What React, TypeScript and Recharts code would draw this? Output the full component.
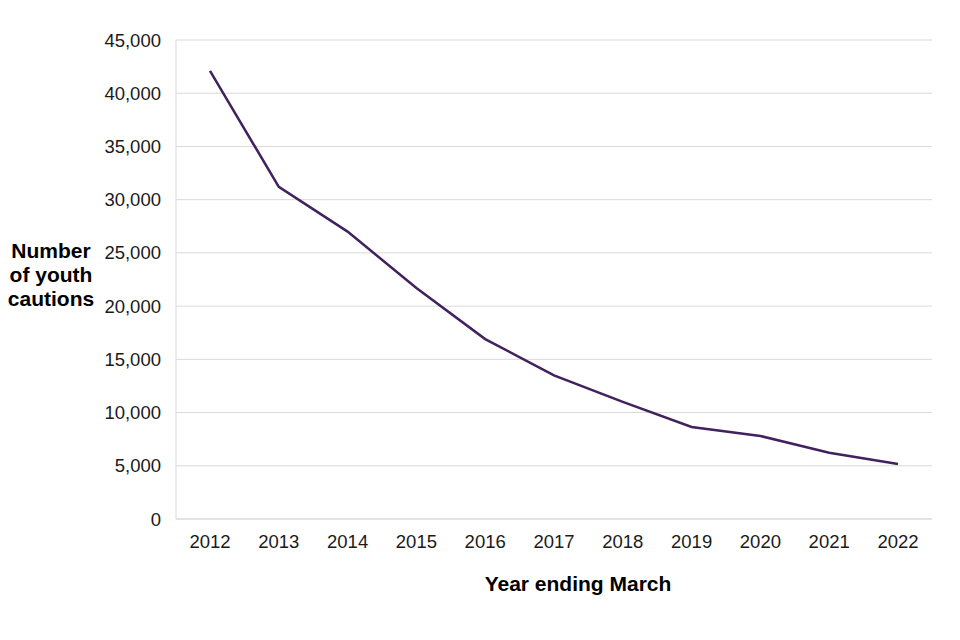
import { LineChart, Line, XAxis, YAxis, CartesianGrid } from 'recharts';

const years = ['2012', '2013', '2014', '2015', '2016', '2017', '2018', '2019', '2020', '2021', '2022'];
const cautions = [42100, 31200, 27000, 21700, 16900, 13500, 11000, 8650, 7800, 6230, 5170];
const yTicks = [0, 5000, 10000, 15000, 20000, 25000, 30000, 35000, 40000, 45000];

const data = years.map((year, i) => ({ year, cautions: cautions[i] }));

const font = '"Liberation Sans", Arial, sans-serif';

function YTitle() {
  return (
    <text x={51} y={258} textAnchor="middle" fontFamily={font} fontSize={21} fontWeight="bold" fill="#000">
      <tspan x={51} dy={0}>Number</tspan>
      <tspan x={51} dy={24}>of youth</tspan>
      <tspan x={51} dy={24}>cautions</tspan>
    </text>
  );
}

function XTitle() {
  return (
    <text x={578} y={591} textAnchor="middle" fontFamily={font} fontSize={21} fontWeight="bold" fill="#000">
      Year ending March
    </text>
  );
}

export default function App() {
  return (
    <div style={{ position: 'absolute', left: 0, top: 0, width: 960, height: 640, background: '#fff' }}>
      <LineChart width={960} height={640} data={data} margin={{ top: 40, right: 28, left: 96, bottom: 51 }}>
        <CartesianGrid vertical={false} stroke="#d9d9d9" />
        <XAxis
          dataKey="year"
          padding={{ left: 34, right: 34 }}
          stroke="#d9d9d9"
          tickLine={false}
          tickSize={0}
          tickMargin={16}
          height={70}
          interval={0}
          tick={{ fill: '#1a1a1a', fontSize: 18.5, fontFamily: font }}
          label={<XTitle />}
        />
        <YAxis
          width={80}
          domain={[0, 45000]}
          ticks={yTicks}
          interval={0}
          stroke="#d9d9d9"
          tickLine={false}
          tickSize={0}
          tickMargin={15}
          tickFormatter={(v: number) => v.toLocaleString('en-GB')}
          tick={{ fill: '#1a1a1a', fontSize: 18.5, fontFamily: font }}
          label={<YTitle />}
        />
        <Line
          type="linear"
          dataKey="cautions"
          stroke="#41215e"
          strokeWidth={2.5}
          dot={false}
          isAnimationActive={false}
        />
      </LineChart>
    </div>
  );
}
